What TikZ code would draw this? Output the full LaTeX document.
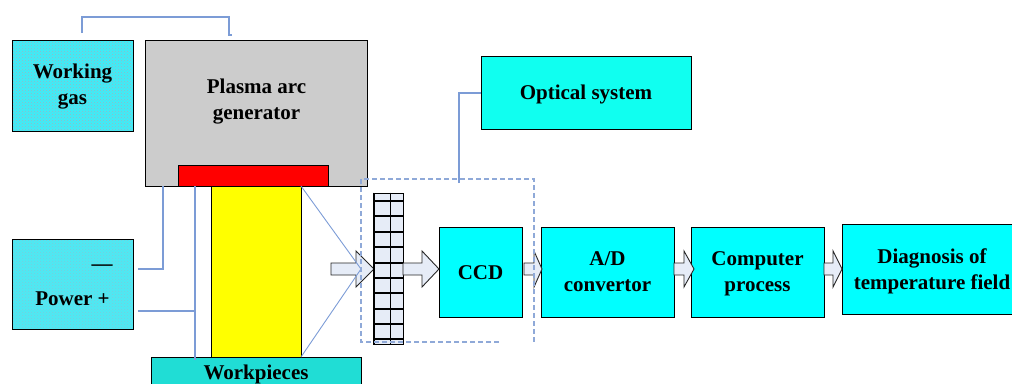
\documentclass[tikz,border=0pt]{standalone}
\usepackage{fontspec}
\setmainfont{Liberation Serif}
\usetikzlibrary{patterns}
\definecolor{wire}{HTML}{7C9CD6}
\definecolor{dashwire}{HTML}{8FA9D8}
\definecolor{pale}{HTML}{E6ECF7}
\definecolor{rgbcyan}{HTML}{00FFFF}
\definecolor{rgbyellow}{HTML}{FFFF00}
\definecolor{rgbred}{HTML}{FF0000}
\definecolor{optcyan}{HTML}{10FFF0}
\definecolor{gascyan}{HTML}{3CEEF8}
\definecolor{powcyan}{HTML}{4CEAF4}
\definecolor{dotgray}{HTML}{A0B0C0}
\definecolor{dotgrayb}{HTML}{80C8D8}
\definecolor{basecyan}{HTML}{20DDD5}
\definecolor{plasmagray}{HTML}{CCCCCC}
\tikzset{
  box/.style={draw=black,line width=1pt,inner sep=0pt,align=center,font=\fontsize{21}{26}\selectfont\bfseries},
  lbl/.style={inner sep=0pt,align=center,font=\fontsize{21}{26}\selectfont\bfseries},
  wireline/.style={draw=wire,line width=1.15pt},
  thinwire/.style={draw=wire,line width=0.9pt},
  dashbox/.style={draw=dashwire,line width=1.2pt,dash pattern=on 5pt off 3pt},
  blk/.style={draw=black!85,fill=pale,line width=0.9pt,line join=miter},
  gridline/.style={draw=black,line width=1.6pt},
}
\newcommand{\blockarrow}[3]{\draw[blk] (#1,263)--(#2,263)--(#2,251)--(#3,269)--(#2,287)--(#2,275)--(#1,275)--cycle;}
\begin{document}
\begin{tikzpicture}[x=1pt,y=-1pt]
\useasboundingbox (0,0) rectangle (1012,383);
\clip (0,0) rectangle (1012,383);
% left boxes
\node[box,minimum width=121pt,minimum height=91pt,preaction={fill=gascyan},pattern=crosshatch dots,pattern color=dotgray] (gas) at (72.5,85.5) {};
\node[lbl] (gastext) at (72.5,87) {Working\\gas};
\node[box,fill=plasmagray,minimum width=222pt,minimum height=146pt] (plasma) at (256,113) {};
\node[lbl] (plasmatext) at (256.5,102) {Plasma arc\\generator};
\node[box,fill=rgbred,minimum width=150pt,minimum height=21pt] (nozzle) at (253,175.5) {};
\node[box,fill=rgbyellow,minimum width=90pt,minimum height=171pt] (work) at (256,271.5) {};
\node[box,minimum width=121pt,minimum height=90pt,preaction={fill=powcyan},pattern=crosshatch dots,pattern color=dotgrayb] (power) at (72.5,284) {};
\node[lbl] (minus) at (102,268) {—};
\node[lbl] (powertext) at (72.5,299) {Power +};
\node[box,fill=basecyan,minimum width=210pt,minimum height=40pt] (base) at (256,377) {};
\node[lbl] (basetext) at (256,374) {Workpieces};
% coordinates of free wire ends
\coordinate (gasup) at (82,33);
\coordinate (gastop) at (82,17);
\coordinate (plasmatop) at (229,17);
\coordinate (plasmaup) at (229,35);
\coordinate (plasmaend) at (232,35);
\coordinate (pminus) at (138,269);
\coordinate (pminusc) at (163,269);
\coordinate (pminust) at (163,186);
\coordinate (pplus) at (138,311);
\coordinate (pplusc) at (195,311);
\coordinate (lead) at (195,186);
\coordinate (leadb) at (195,360);
\coordinate (focus) at (361,269);
\coordinate (beamt) at (301,186);
\coordinate (beamb) at (301,357);
\coordinate (opt) at (459,183);
\coordinate (optc) at (459,93);
% right boxes
\node[box,fill=optcyan,minimum width=210pt,minimum height=73pt] (optical) at (586,92.5) {};
\node[lbl] (opticaltext) at (586,94) {Optical system};
\node[box,fill=rgbcyan,minimum width=83pt,minimum height=90pt] (ccd) at (480.5,272) {};
\node[lbl] (ccdtext) at (480.5,273) {CCD};
\node[box,fill=rgbcyan,minimum width=133pt,minimum height=90pt] (ad) at (607.5,272) {A/D\\convertor};
\node[box,fill=rgbcyan,minimum width=133pt,minimum height=90pt] (comp) at (757.5,272) {};
\node[lbl] (comptext) at (757.5,274) {Computer\\process};
\node[box,fill=rgbcyan,minimum width=180pt,minimum height=90pt] (diag) at (932,269) {};
\node[lbl] (diagtext) at (932,271) {Diagnosis of\\temperature field};
% wires
\draw[wireline] (gasup)--(gastop)--(plasmatop)--(plasmaup)--(plasmaend);
\draw[wireline] (pminus)--(pminusc)--(pminust);
\draw[wireline] (pplus)--(pplusc);
\draw[wireline] (lead)--(leadb);
% arrows and grid
\blockarrow{331}{356}{374}
\draw[thinwire] (beamt)--(focus)--(beamb);
\node[draw=black,line width=1pt,fill=pale,inner sep=0pt,minimum width=29pt,minimum height=151pt] (grid) at (388.5,268.5) {};
\draw[gridline] (grid.north)++(2,0) -- ++(0,151);
\foreach \yy in {201,216,232,247,263,278,293,309,324,339}{\draw[gridline] (374,\yy)--(403,\yy);}
\draw[gridline] (grid.north west)--(grid.south west);
\blockarrow{403}{422}{439}
\blockarrow{524}{534}{542}
\blockarrow{674}{684}{694}
\blockarrow{824}{833}{842}
% dashed frame
\draw[dashbox] (499,342)--(361,342)--(361,179)--(534,179)--(534,342);
\draw[wireline] (opt)--(optc)--(optical.west|-optc);
\end{tikzpicture}
\end{document}
